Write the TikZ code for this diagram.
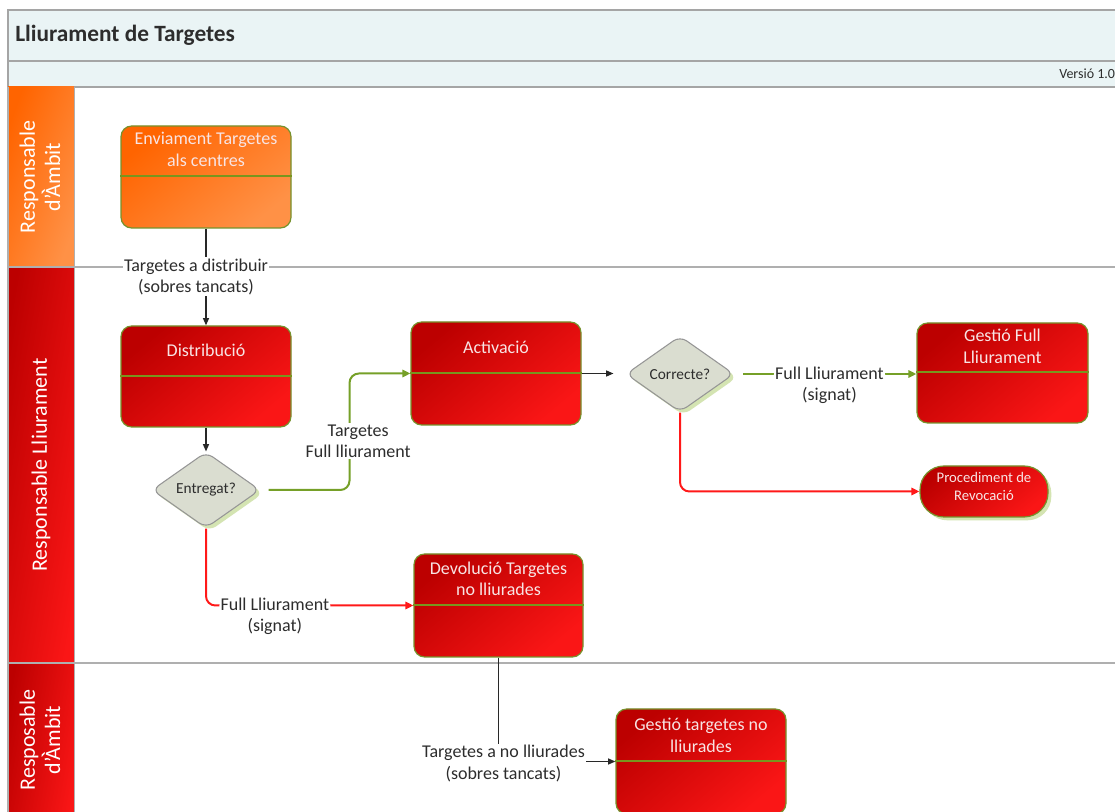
\documentclass[tikz,border=0pt]{standalone}
\usepackage{fontspec}
\setmainfont{Carlito}
\usetikzlibrary{fit,shapes.geometric,arrows.meta,calc,shadows}
\definecolor{hdr}{RGB}{234,244,245}
\definecolor{hdrline}{RGB}{165,165,165}
\definecolor{laneline}{RGB}{175,175,175}
\definecolor{orA}{RGB}{255,100,0}
\definecolor{orB}{RGB}{255,145,70}
\definecolor{rdA}{RGB}{188,0,0}
\definecolor{rdB}{RGB}{250,22,22}
\definecolor{bgreen}{RGB}{118,146,44}
\definecolor{dgreen}{RGB}{120,150,30}
\definecolor{agreen}{RGB}{118,160,40}
\definecolor{ared}{RGB}{255,25,25}
\definecolor{ablack}{RGB}{40,40,40}
\definecolor{diafill}{RGB}{218,221,208}
\definecolor{diadraw}{RGB}{150,150,150}
\definecolor{shgreen}{RGB}{212,228,178}
\definecolor{txt}{RGB}{45,45,45}
\definecolor{btxt}{RGB}{248,228,228}
\begin{document}
\begin{tikzpicture}[x=0.75pt,y=-0.75pt,
  box/.style={draw=bgreen, line width=0.9pt, rounded corners=8pt, inner sep=0pt,
    top color=rdA, bottom color=rdB, shading angle=40},
  obox/.style={box, top color=orA, bottom color=orB, shading angle=40},
  divider/.style={draw=dgreen, line width=1.4pt},
  boxtext/.style={text=btxt, align=center, inner sep=0pt, font=\fontsize{13.5}{16}\selectfont},
  dia/.style={shape=diamond, draw=diadraw, fill=diafill, line width=0.8pt, minimum width=81pt,
    minimum height=57pt, inner sep=0pt, rounded corners=6pt, text=txt,
    font=\fontsize{11.5}{13}\selectfont,
    drop shadow={shadow xshift=2.5pt, shadow yshift=-2.5pt, fill=shgreen, opacity=1}},
  pill/.style={draw=bgreen, line width=0.9pt, rounded corners=18pt, inner sep=0pt,
    top color=rdA, bottom color=rdB, shading angle=40, text=btxt, align=center,
    font=\fontsize{11}{14}\selectfont,
    drop shadow={shadow xshift=2.5pt, shadow yshift=-2.5pt, fill=shgreen, opacity=1}},
  lbl/.style={fill=white, text=txt, align=center, inner sep=1pt, font=\fontsize{13.5}{16}\selectfont},
  blk/.style={draw=ablack, line width=1pt, -{Triangle[length=5.5pt,width=4.5pt]}},
  grn/.style={draw=agreen, line width=1.5pt, rounded corners=7pt, -{Triangle[length=6pt,width=5.5pt]}},
  rdl/.style={draw=ared, line width=1.5pt, rounded corners=7pt, -{Triangle[length=6pt,width=5.5pt]}},
  lanetext/.style={rotate=90, text=white, align=center, inner sep=0pt, font=\fontsize{16.5}{19}\selectfont}
]
\useasboundingbox (0,0) rectangle (1115,812);
\clip (0,0) rectangle (1115,812);
\fill[white] (0,0) rectangle (1115,812);

% header
\draw[hdrline, fill=hdr, line width=0.9pt] (8,10) rectangle (1130,61);
\draw[hdrline, fill=hdr, line width=0.9pt] (8,61) rectangle (1130,87);
\node[anchor=west, inner sep=0pt, text=txt, font=\fontsize{17.5}{20}\selectfont\bfseries] (title) at (15,35) {Lliurament de Targetes};
\node[anchor=west, inner sep=0pt, text=txt, font=\fontsize{10.5}{12}\selectfont] (version) at (1059,74) {Versió 1.0};

% lanes
\shade[left color=orA, right color=orB, shading angle=70] (8,87) rectangle (74,267);
\shade[left color=rdA, right color=rdB, shading angle=80] (8,267) rectangle (74,663);
\shade[left color=rdA, right color=rdB, shading angle=80] (8,663) rectangle (74,830);
\draw[laneline, line width=0.9pt] (8,267) -- (1130,267);
\draw[laneline, line width=0.9pt] (8,663) -- (1130,663);
\draw[laneline, line width=0.9pt] (74.5,87) -- (74.5,830);
\draw[laneline, line width=0.9pt] (8,87) -- (8,830);
\node[lanetext] (lane1) at (40,177) {Responsable\\d’Àmbit};
\node[lanetext] (lane2) at (41,465) {Responsable Lliurament};
\node[lanetext] (lane3) at (40,740) {Resposable\\d’Àmbit};

% process boxes
\node[obox, fit={(121,126) (291,228)}] (env) {};
\draw[divider] ($(env.north west)+(0,51)$) -- ($(env.north east)+(0,51)$);
\node[boxtext] (env-t) at ($(env.north)+(0,24)$) {Enviament Targetes\\als centres};

\node[box, fit={(121,326) (291,427)}] (dist) {};
\draw[divider] ($(dist.north west)+(0,51)$) -- ($(dist.north east)+(0,51)$);
\node[boxtext] (dist-t) at ($(dist.north)+(0,25)$) {Distribució};

\node[box, fit={(411,322) (581,425)}] (act) {};
\draw[divider] ($(act.north west)+(0,52)$) -- ($(act.north east)+(0,52)$);
\node[boxtext] (act-t) at ($(act.north)+(0,26)$) {Activació};

\node[box, fit={(917,323) (1088,423)}] (gfl) {};
\draw[divider] ($(gfl.north west)+(0,50)$) -- ($(gfl.north east)+(0,50)$);
\node[boxtext] (gfl-t) at ($(gfl.north)+(0,24)$) {Gestió Full\\Lliurament};

\node[box, fit={(414,554) (583,657)}] (dev) {};
\draw[divider] ($(dev.north west)+(0,52)$) -- ($(dev.north east)+(0,52)$);
\node[boxtext] (dev-t) at ($(dev.north)+(0,25.5)$) {Devolució Targetes\\no lliurades};

\node[box, fit={(616,709) (786,814)}] (gtn) {};
\draw[divider] ($(gtn.north west)+(0,53)$) -- ($(gtn.north east)+(0,53)$);
\node[boxtext] (gtn-t) at ($(gtn.north)+(0,27)$) {Gestió targetes no\\lliurades};

% decisions and terminal
\node[dia] (entr) at (206,490) {Entregat?};
\node[dia] (corr) at (680,374) {Correcte?};
\node[pill, fit={(920,466) (1048,517)}] (proc) {Procediment de\\Revocació};

% connectors
\draw[blk] (env) -- node[lbl, xshift=-7.5pt] (l1) {Targetes a distribuir\\(sobres tancats)} (dist);
\draw[blk] (dist) -- (entr);
\draw[grn, shorten <=6pt] (entr.east) -- ++(89,0) |- node[lbl, pos=0.21, xshift=6.5pt] (l2) {Targetes\\Full lliurament} (act.west);
\draw[blk, shorten >=9pt] (act.east) -- (act.east -| corr.west);
\draw[grn, shorten <=6.5pt] (corr.east) -- node[lbl, yshift=-8.25pt, xshift=3pt] (l3) {Full Lliurament\\(signat)} (corr.east -| gfl.west);
\draw[rdl] (corr.south) |- (proc.west);
\draw[rdl] (entr.south) |- node[lbl, pos=0.666, yshift=-8.25pt] (l4) {Full Lliurament\\(signat)} (dev.west);
\draw[blk] (dev.south) |- node[lbl, pos=0.5, xshift=3.75pt, yshift=-1.5pt] (l5) {Targetes a no lliurades\\(sobres tancats)} (gtn.west);
\end{tikzpicture}
\end{document}
